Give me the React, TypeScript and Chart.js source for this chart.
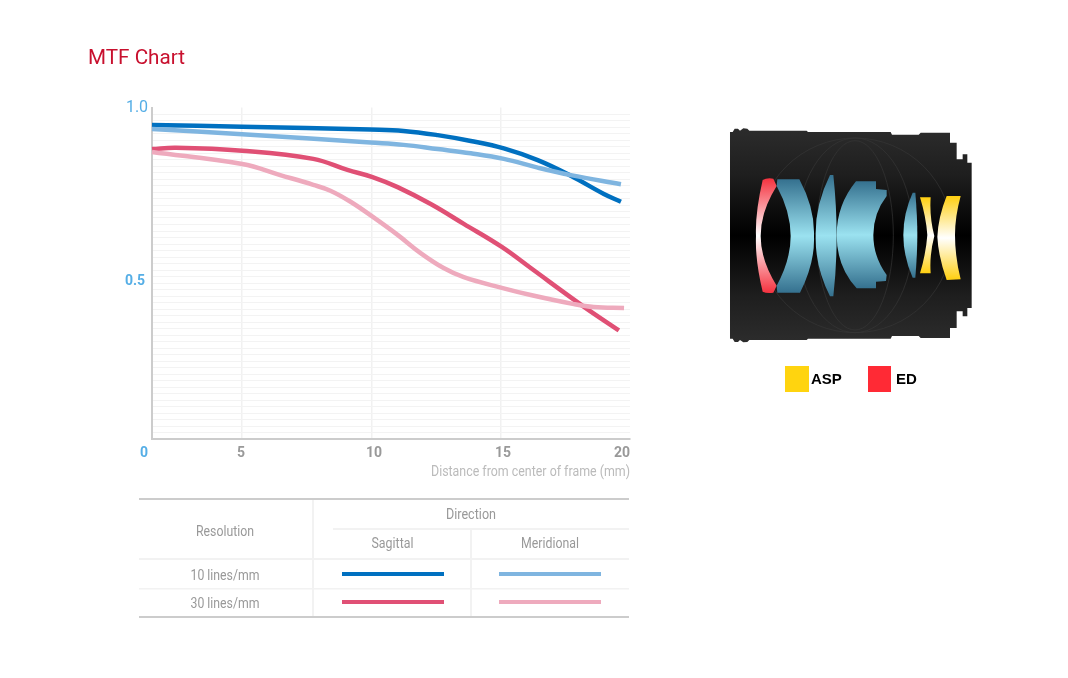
import React, { useEffect, useRef } from "react";
import { Chart, registerables } from "chart.js";

Chart.register(...registerables);

// X values are read against the picture's vertical grid lines (5, 10, 15, 20).
const xTickValues = [1.51, 5, 10, 15, 20];
const xTickLabels = ["0", "5", "10", "15", "20"];

const sag10X = [1.51, 5, 9.96, 11.24, 12.56, 13.84, 15.12, 16.43, 17.71, 18.99, 19.65];
const sag10Y = [0.966, 0.961, 0.952, 0.948, 0.935, 0.917, 0.894, 0.858, 0.81, 0.754, 0.73];

const mer10X = [1.51, 5, 9.96, 11.24, 12.56, 13.84, 15.12, 16.43, 17.71, 19.65];
const mer10Y = [0.954, 0.938, 0.912, 0.905, 0.892, 0.879, 0.862, 0.835, 0.812, 0.784];

const sag30X = [1.51, 2.44, 5, 7.75, 9.07, 10.04, 11.01, 12.29, 13.57, 15.04, 16.16, 18.18, 19.57];
const sag30Y = [0.892, 0.896, 0.887, 0.862, 0.828, 0.806, 0.775, 0.723, 0.662, 0.591, 0.526, 0.409, 0.334];

const mer30X = [1.51, 5, 6.47, 7.75, 8.41, 9.19, 10.04, 11.01, 11.9, 12.79, 13.57, 15.04, 16.16, 17.83, 18.6, 19.77];
const mer30Y = [0.883, 0.846, 0.812, 0.782, 0.764, 0.73, 0.684, 0.628, 0.572, 0.526, 0.498, 0.465, 0.443, 0.415, 0.406, 0.403];

const seriesNames = ["10 lines/mm Meridional", "30 lines/mm Meridional", "10 lines/mm Sagittal", "30 lines/mm Sagittal"];
const colDarkBlue = "#0070c0";
const colLightBlue = "#7fb5e0";
const colDarkPink = "#e05075";
const colLightPink = "#eeaabd";

const xLabelPlace: Record<string, [number, number]> = {
  "0": [144, 453], "5": [241, 453], "10": [374, 453], "15": [503, 453], "20": [622, 453],
};
const yLabelPlace: Record<string, [number, number]> = { "1.0": [137, 108], "0.5": [135, 281] };

const toPoints = (xs: number[], ys: number[]) => xs.map((x, i) => ({ x, y: ys[i] }));

const placeLabels = {
  id: "placeLabels",
  beforeDraw(chart: any) {
    for (const [id, places] of [["x", xLabelPlace], ["y", yLabelPlace]] as any) {
      const scale = chart.scales[id];
      for (const item of scale.getLabelItems(chart.chartArea)) {
        const p = places[item.label];
        if (p) {
          item.textOffset = 0;
          item.options.translation = p;
          item.options.textAlign = "center";
          item.options.textBaseline = "middle";
        }
      }
    }
  },
};

const line = (label: string, data: any[], color: string) => ({
  label,
  data,
  borderColor: color,
  backgroundColor: color,
  borderWidth: 4.5,
  pointRadius: 0,
  tension: 0.4,
  clip: false as const,
});

const GREY = "#999999";
const FONT = "Roboto, 'Liberation Sans', sans-serif";

function Txt({ x, y, w, children }: { x: number; y: number; w: number; children: string }) {
  return (
    <text x={x} y={y} textAnchor="middle" fontFamily={FONT} fontSize={15} fill={GREY}
      textLength={w} lengthAdjust="spacingAndGlyphs">{children}</text>
  );
}

function Overlay() {
  const rule = "#cccccc";
  const soft = "#f2f2f2";
  return (
    <svg width={1068} height={678} style={{ position: "absolute", left: 0, top: 0 }}>
      <defs>
        <linearGradient id="body" x1="0" y1="0" x2="0" y2="1">
          <stop offset="0" stopColor="#2c2c2c" /><stop offset="0.22" stopColor="#1e1e1e" />
          <stop offset="0.5" stopColor="#000" /><stop offset="0.78" stopColor="#1e1e1e" />
          <stop offset="1" stopColor="#2c2c2c" />
        </linearGradient>
        <linearGradient id="blue" x1="0" y1="0" x2="0" y2="1">
          <stop offset="0" stopColor="#35718f" /><stop offset="0.5" stopColor="#9be2f0" />
          <stop offset="1" stopColor="#35718f" />
        </linearGradient>
        <linearGradient id="red" x1="0" y1="0" x2="0" y2="1">
          <stop offset="0" stopColor="#f5323f" /><stop offset="0.5" stopColor="#ffffff" />
          <stop offset="1" stopColor="#f5323f" />
        </linearGradient>
        <linearGradient id="yel" x1="0" y1="0" x2="0" y2="1">
          <stop offset="0" stopColor="#ffcf10" /><stop offset="0.5" stopColor="#ffffff" />
          <stop offset="1" stopColor="#ffcf10" />
        </linearGradient>
      </defs>

      <text x={88} y={64} fontFamily={FONT} fontWeight={400} fontSize={20} fill="#c8102e"
        textLength={97} lengthAdjust="spacingAndGlyphs">MTF Chart</text>

      <text x={530.5} y={476} textAnchor="middle" fontFamily={FONT} fontSize={15} fill="#bbbbbb"
        textLength={199} lengthAdjust="spacingAndGlyphs">Distance from center of frame (mm)</text>

      {/* key table */}
      <rect x={139} y={498} width={490} height={2} fill={rule} />
      <rect x={139} y={616} width={490} height={2} fill={rule} />
      <rect x={333} y={528} width={296} height={2} fill={soft} />
      <rect x={139} y={558} width={490} height={2} fill={soft} />
      <rect x={139} y={588} width={490} height={1.5} fill={soft} />
      <rect x={312} y={500} width={2} height={116} fill={soft} />
      <rect x={470} y={530} width={2} height={86} fill={soft} />
      <Txt x={225} y={536} w={58}>Resolution</Txt>
      <Txt x={471} y={519} w={50}>Direction</Txt>
      <Txt x={392.5} y={548} w={42}>Sagittal</Txt>
      <Txt x={550} y={548} w={58}>Meridional</Txt>
      <Txt x={225} y={580} w={69}>10 lines/mm</Txt>
      <Txt x={225} y={608} w={69}>30 lines/mm</Txt>
      <rect x={342} y={572} width={102} height={4} fill={colDarkBlue} />
      <rect x={499} y={572} width={102} height={4} fill={colLightBlue} />
      <rect x={342} y={600} width={102} height={4} fill={colDarkPink} />
      <rect x={499} y={600} width={102} height={4} fill={colLightPink} />

      {/* lens cross-section */}
      <g transform="translate(720,120) scale(0.33333)">
        <path fill="url(#body)" d="M30 36 L38 36 L44 26 L54 26 L60 32 L70 25 L82 26 L88 32 L260 32 L264 36 L512 36 L516 44 L596 44 L602 38 L690 38 L690 68 L710 68 L710 118 L728 118 L728 103 L742 103 L742 128 L755 128
          L755 564 L742 564 L742 589 L728 589 L728 574 L710 574 L710 624 L690 624 L690 654 L602 654 L596 648 L516 648 L512 656 L264 656 L260 660 L88 660 L82 666 L70 667 L60 660 L54 666 L44 666 L38 656 L30 656 Z" />
        <g fill="none" stroke="#363636" strokeWidth={2}>
          <circle cx={405} cy={346} r={292} />
          <ellipse cx={405} cy={346} rx={175} ry={292} />
          <ellipse cx={405} cy={346} rx={115} ry={284} />
        </g>
        <path fill="url(#red)" d="M128 180 Q105 280 108 348 Q105 420 128 515 Q140 521 160 518 L170 497 Q122 420 122 348 Q122 275 170 198 L160 176 Q140 173 128 180 Z" />
        <path fill="url(#blue)" d="M172 178 L238 178 Q285 265 282 348 Q285 430 240 518 L172 518 L170 497 Q212 420 212 348 Q212 275 170 198 Z" />
        <path fill="url(#blue)" d="M330 165 L340 165 Q350 260 350 348 Q350 440 340 529 L330 529 Q285 440 287 348 Q285 255 330 165 Z" />
        <path fill="url(#blue)" d="M408 184 L468 184 L468 207 L500 210 L500 228 Q460 280 460 345 Q460 410 500 465 L498 483 L468 485 L468 505 L410 505 Q350 440 350 345 Q350 255 408 184 Z" />
        <path fill="url(#blue)" d="M578 218 L586 218 Q592 290 592 345 Q592 400 586 473 L578 473 Q550 410 550 345 Q550 280 578 218 Z" />
        <path fill="url(#yel)" d="M600 232 L632 232 Q628 290 643 348 Q628 405 632 460 L600 460 Q618 400 622 345 Q618 290 600 232 Z" />
        <path fill="url(#yel)" d="M680 228 L722 228 Q705 290 705 345 Q705 410 722 478 L680 480 Q655 410 652 350 Q655 290 680 228 Z" />
      </g>

      {/* lens key */}
      <rect x={785} y={366} width={24} height={26} fill="#ffd40f" />
      <text x={811} y={383.5} fontFamily="'Liberation Sans', sans-serif" fontWeight={700} fontSize={15} fill="#000">ASP</text>
      <rect x={868} y={366} width={23} height={26} fill="#ff2a35" />
      <text x={896} y={383.5} fontFamily="'Liberation Sans', sans-serif" fontWeight={700} fontSize={15} fill="#000">ED</text>
    </svg>
  );
}

export default function App() {
  const ref = useRef<HTMLCanvasElement | null>(null);

  useEffect(() => {
    const chart = new Chart(ref.current as HTMLCanvasElement, {
      type: "line",
      data: {
        datasets: [
          line(seriesNames[0], toPoints(mer10X, mer10Y), colLightBlue),
          line(seriesNames[1], toPoints(mer30X, mer30Y), colLightPink),
          line(seriesNames[2], toPoints(sag10X, sag10Y), colDarkBlue),
          line(seriesNames[3], toPoints(sag30X, sag30Y), colDarkPink),
        ],
      },
      options: {
        responsive: false,
        animation: false,
        events: [],
        layout: { padding: { left: 112, top: 107.5, right: 438, bottom: 199 } },
        plugins: { legend: { display: false }, tooltip: { enabled: false } },
        scales: {
          x: {
            type: "linear",
            min: xTickValues[0],
            max: 20,
            afterFit: (s: any) => { s.height = 40; },
            afterBuildTicks: (s: any) => { s.ticks = xTickValues.map((value) => ({ value })); },
            border: { color: "#cccccc", width: 2 },
            grid: {
              drawTicks: false,
              lineWidth: 1.5,
              color: (c: any) => (c.tick.value === 5 || c.tick.value === 10 || c.tick.value === 15 ? "#f1f1f1" : "rgba(0,0,0,0)"),
            },
            ticks: {
              autoSkip: false,
              maxRotation: 0,
              callback: (_v: any, i: number) => xTickLabels[i],
              font: { family: FONT, size: 14, weight: "bold" },
              color: (c: any) => (c.index === 0 ? "#55aee6" : "#999999"),
            },
          },
          y: {
            min: 0,
            max: 1.02,
            afterFit: (s: any) => { s.width = 40; },
            border: { color: "#cccccc", width: 2 },
            grid: {
              drawTicks: false,
              lineWidth: 1,
              color: (c: any) => (c.tick.value > 1.01 || c.tick.value < 0.01 ? "rgba(0,0,0,0)" : "#f3f3f3"),
            },
            ticks: {
              stepSize: 0.02,
              autoSkip: false,
              callback: (v: any) => (Math.abs(v - 1) < 0.001 ? "1.0" : Math.abs(v - 0.5) < 0.001 ? "0.5" : ""),
              font: (c: any) => (c.tick && c.tick.value > 0.9
                ? { family: FONT, size: 16, weight: "normal" }
                : { family: FONT, size: 14, weight: "bold" }),
              color: "#55aee6",
            },
          },
        },
      },
      plugins: [placeLabels],
    } as any);
    return () => chart.destroy();
  }, []);

  return (
    <div style={{ position: "absolute", left: 0, top: 0, width: 1068, height: 678, background: "#fff", overflow: "hidden" }}>
      <canvas ref={ref} width={1068} height={678} style={{ position: "absolute", left: 0, top: 0, display: "block" }} />
      <Overlay />
    </div>
  );
}
